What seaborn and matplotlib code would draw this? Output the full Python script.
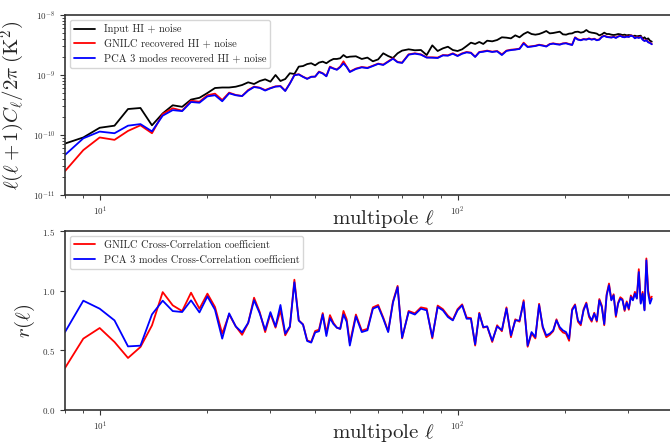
import numpy as np
import pandas as pd
import seaborn as sns
import matplotlib.pyplot as plt

# multipoles: every ell at low ell, coarser further out
ell = np.concatenate([np.arange(8, 51), np.arange(52, 71, 2),
                      np.arange(73, 122, 3), np.arange(125, 350, 4)])

# power spectra, in units of 1e-10 K^2
input_hi = [0.72, 0.91, 1.32, 1.43, 2.71, 2.82, 1.45, 2.29, 3.13, 2.95, 3.89, 4.17,
            5.01, 6.07, 6.19, 6.19, 6.38, 6.81, 7.55, 7.08, 7.94, 8.47, 7.74, 10.0, 7.94,
            8.57, 10.7, 10.4, 13.8, 14.1, 15.2, 15.7, 14.5, 16.1, 16.7, 15.7, 17.3, 18.5,
            18.5, 19.0, 21.5, 19.7, 20.2,
            20.5, 18.5, 19.5, 16.9, 18.2, 23.0, 20.7, 19.2, 23.0, 25.5,
            26.8, 25.8, 26.1, 21.5, 31.2, 25.1, 27.8, 29.6, 26.1, 25.1, 26.8, 30.4, 34.6,
            32.9, 35.5, 32.9, 37.3,
            36.4, 38.3, 42.5, 41.9, 40.8, 45.8, 42.5, 48.2, 52.1, 48.2,
            47.0, 48.2, 50.8, 54.1, 49.4, 50.1, 51.4, 52.7, 47.6, 47.0,
            48.9, 49.4, 52.1, 52.7, 50.8, 52.1, 56.2, 52.1, 50.8, 50.1,
            48.9, 45.8, 47.6, 50.8, 48.2, 48.2, 47.0, 46.4, 47.0, 48.2,
            47.6, 46.4, 47.0, 45.8, 46.4, 45.8, 44.7, 45.2, 44.1, 44.7,
            45.2, 40.3, 42.5, 39.3, 40.8, 37.3, 36.0]

gnilc_hi = [0.25, 0.56, 0.91, 0.83, 1.17, 1.45, 1.07, 2.24, 2.79, 2.54, 3.72, 3.59,
            4.6, 4.89, 3.83, 5.08, 4.65, 4.47, 5.62, 6.40, 6.15, 5.62, 6.07, 6.47, 6.56,
            5.48, 7.26, 10.0, 10.3, 9.38, 8.69, 9.38, 9.38, 11.4, 10.7, 9.62, 13.8, 12.9,
            12.4, 13.8, 16.9, 13.8, 11.4,
            12.8, 13.6, 13.2, 14.3, 15.5, 14.9, 16.9, 19.0, 16.5, 16.1,
            22.1, 23.0, 22.1, 19.7, 19.7, 19.5, 21.5, 21.3, 23.0, 21.0, 23.0, 24.2, 23.6,
            20.2, 24.2, 24.8, 25.5,
            24.5, 25.1, 22.1, 25.5, 26.4, 26.8, 27.5, 34.6, 29.6, 30.1,
            30.8, 32.0, 31.2, 30.1, 32.9, 33.7, 32.9, 32.4, 33.7, 34.1,
            32.9, 32.0, 42.5, 39.3, 38.3, 39.8, 39.3, 40.8, 39.3, 40.3,
            38.3, 39.3, 43.6, 45.3, 43.6, 43.0, 42.5, 43.6, 41.9, 44.1,
            45.3, 43.6, 43.0, 44.1, 43.6, 45.8, 44.7, 41.4, 43.0, 41.9,
            43.6, 39.3, 37.3, 38.3, 35.5, 34.6, 32.9]

pca_hi = [0.465, 0.88, 1.14, 1.07, 1.43, 1.52, 1.15, 2.1, 2.6, 2.5, 3.55, 3.45,
          4.4, 4.6, 3.65, 4.95, 4.6, 4.45, 5.5, 6.3, 6.1, 5.5, 6.0, 6.4, 6.5,
          5.4, 7.2, 9.9, 10.2, 9.3, 8.6, 9.3, 9.4, 11.2, 10.6, 9.5, 13.5, 12.8,
          12.2, 13.5, 15.6, 13.6, 11.2,
          12.6, 13.4, 13.0, 14.1, 15.3, 14.7, 16.6, 18.7, 16.3, 15.9,
          21.8, 22.7, 21.8, 19.5, 19.4, 19.2, 21.2, 21.0, 22.6, 20.7, 22.6, 23.8, 23.3,
          20.0, 23.9, 24.4, 25.1,
          24.2, 24.8, 21.5, 25.2, 26.0, 26.5, 27.2, 33.5, 29.2, 29.8,
          30.4, 31.6, 30.8, 29.8, 32.5, 33.3, 32.5, 32.0, 33.3, 33.7,
          32.5, 31.6, 41.8, 38.8, 37.9, 39.3, 38.8, 40.3, 38.8, 39.8,
          37.9, 38.8, 43.0, 44.8, 43.0, 42.5, 42.0, 43.0, 41.4, 43.6,
          44.8, 43.0, 42.5, 43.6, 43.0, 45.3, 44.1, 40.9, 42.5, 41.4,
          43.0, 38.8, 36.8, 37.9, 35.0, 34.1, 32.5]

# cross-correlation coefficients
r_gnilc = [0.352, 0.598, 0.687, 0.570, 0.436, 0.528, 0.709, 0.988, 0.877, 0.829, 0.983, 0.849,
           0.975, 0.863, 0.640, 0.801, 0.701, 0.630, 0.729, 0.941, 0.821, 0.653,
           0.807, 0.690, 0.835, 0.626, 0.695, 1.092, 0.751, 0.718, 0.584, 0.570,
           0.662, 0.673, 0.812, 0.645, 0.795, 0.730, 0.690, 0.680, 0.830, 0.760, 0.560,
           0.80, 0.665, 0.68, 0.86, 0.88, 0.775, 0.66, 0.91, 1.04, 0.60,
           0.83, 0.81, 0.86, 0.85, 0.60, 0.875, 0.845, 0.79, 0.755, 0.845, 0.885, 0.775,
           0.77, 0.54, 0.815, 0.69, 0.70,
           0.57, 0.71, 0.66, 0.86, 0.61, 0.76, 0.74, 0.92, 0.53, 0.64,
           0.60, 0.89, 0.69, 0.61, 0.63, 0.66, 0.76, 0.68, 0.65, 0.64,
           0.58, 0.845, 0.885, 0.74, 0.71, 0.845, 0.90, 0.78, 0.74, 0.815,
           0.74, 0.93, 0.875, 0.71, 0.97, 1.06, 0.925, 0.97, 0.78, 0.90,
           0.945, 0.93, 0.83, 0.91, 0.84, 0.96, 0.925, 0.99, 0.94, 1.18,
           0.90, 0.99, 0.84, 1.27, 1.00, 0.93, 0.95]

r_pca = [0.653, 0.916, 0.849, 0.751, 0.533, 0.539, 0.801, 0.916, 0.829, 0.821, 0.919, 0.818,
         0.952, 0.840, 0.598, 0.810, 0.700, 0.650, 0.730, 0.920, 0.810, 0.670,
         0.820, 0.700, 0.880, 0.640, 0.700, 1.070, 0.750, 0.715, 0.578, 0.565,
         0.650, 0.660, 0.800, 0.620, 0.770, 0.720, 0.690, 0.680, 0.800, 0.740, 0.540,
         0.785, 0.653, 0.668, 0.849, 0.868, 0.765, 0.653, 0.90, 1.03, 0.606,
         0.821, 0.80, 0.849, 0.835, 0.611, 0.863, 0.835, 0.779, 0.751, 0.835, 0.877, 0.765,
         0.765, 0.55, 0.807, 0.695, 0.70,
         0.58, 0.70, 0.67, 0.85, 0.625, 0.75, 0.75, 0.905, 0.54, 0.653,
         0.611, 0.88, 0.70, 0.625, 0.64, 0.667, 0.751, 0.695, 0.667, 0.653,
         0.597, 0.835, 0.877, 0.751, 0.723, 0.835, 0.891, 0.793, 0.751, 0.807,
         0.751, 0.919, 0.863, 0.72, 0.96, 1.045, 0.919, 0.961, 0.793, 0.891,
         0.933, 0.92, 0.84, 0.90, 0.85, 0.947, 0.919, 0.975, 0.933, 1.156,
         0.891, 0.975, 0.835, 1.254, 0.975, 0.891, 0.933]

for s in (input_hi, gnilc_hi, pca_hi, r_gnilc, r_pca):
    assert len(s) == len(ell), len(s)

df = pd.DataFrame({'ell': ell,
                   'input': np.array(input_hi) * 1e-10,
                   'gnilc': np.array(gnilc_hi) * 1e-10,
                   'pca': np.array(pca_hi) * 1e-10,
                   'r_gnilc': r_gnilc,
                   'r_pca': r_pca})

sns.set_style('ticks')
plt.rcParams['font.family'] = 'serif'
plt.rcParams['font.serif'] = ['cmr10']
plt.rcParams['mathtext.fontset'] = 'cm'
plt.rcParams['axes.formatter.use_mathtext'] = True
plt.rcParams['axes.unicode_minus'] = False

fig = plt.figure(figsize=(6.7, 4.44), dpi=100)
ax1 = fig.add_axes([65/670, 1 - 195/444, 608/670, 180/444])
ax2 = fig.add_axes([65/670, 1 - 410/444, 608/670, 179/444])

lw = 1.3
sns.lineplot(data=df, x='ell', y='input', ax=ax1, color='black', lw=lw,
             label='Input HI + noise')
sns.lineplot(data=df, x='ell', y='gnilc', ax=ax1, color='red', lw=lw,
             label='GNILC recovered HI + noise')
sns.lineplot(data=df, x='ell', y='pca', ax=ax1, color='blue', lw=lw,
             label='PCA 3 modes recovered HI + noise')
ax1.set_xscale('log')
ax1.set_yscale('log')
ax1.set_xlim(8, 400)
ax1.set_ylim(1e-11, 1e-8)
ax1.set_xlabel(r'multipole $\ell$', fontsize=15)
ax1.set_ylabel(r'$\ell(\ell+1)C_\ell/2\pi\;(\mathrm{K}^2)$', fontsize=15)
ax1.xaxis.set_label_coords(0.523, -0.072)

sns.lineplot(data=df, x='ell', y='r_gnilc', ax=ax2, color='red', lw=lw,
             label='GNILC Cross-Correlation coefficient')
sns.lineplot(data=df, x='ell', y='r_pca', ax=ax2, color='blue', lw=lw,
             label='PCA 3 modes Cross-Correlation coefficient')
ax2.set_xscale('log')
ax2.set_xlim(8, 400)
ax2.set_ylim(0, 1.5)
ax2.set_yticks([0.0, 0.5, 1.0, 1.5])
ax2.set_xlabel(r'multipole $\ell$', fontsize=15)
ax2.set_ylabel(r'$r(\ell)$', fontsize=15)
ax2.xaxis.set_label_coords(0.523, -0.068)

for ax in (ax1, ax2):
    ax.tick_params(labelsize=6.5, colors='#333333')
    for sp in ax.spines.values():
        sp.set_color('#333333')
        sp.set_linewidth(1.2)
    ax.legend(loc='upper left', fontsize=7.5, frameon=True, fancybox=True,
              edgecolor='0.8', framealpha=0.8, handlelength=2.0)

fig.savefig('out.png', dpi=100)
